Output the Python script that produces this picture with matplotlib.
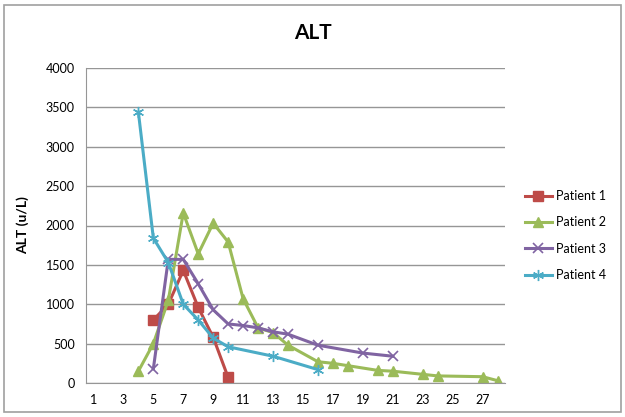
import matplotlib.pyplot as plt
from matplotlib.patches import Rectangle

plt.rcParams['font.family'] = ['Lato', 'DejaVu Sans']

# day numbers and ALT readings (u/L) per patient
days_p1 = [5, 6, 7, 8, 9, 10]
alt_p1 = [800, 1000, 1430, 960, 580, 70]

days_p2 = [4, 5, 6, 7, 8, 9, 10, 11, 12, 13, 14, 16, 17, 18, 20, 21, 23, 24, 27, 28]
alt_p2 = [150, 500, 1050, 2160, 1640, 2030, 1790, 1070, 700, 640, 480, 270, 250, 220,
          160, 150, 110, 90, 80, 30]

days_p3 = [5, 6, 7, 8, 9, 10, 11, 12, 13, 14, 16, 19, 21]
alt_p3 = [180, 1570, 1570, 1260, 930, 750, 730, 700, 650, 620, 480, 380, 340]

days_p4 = [4, 5, 6, 7, 8, 9, 10, 13, 16]
alt_p4 = [3440, 1840, 1530, 1000, 800, 570, 460, 340, 170]

xtick_labels = list(range(1, 29, 2))
ytick_vals = list(range(0, 4001, 500))

fig = plt.figure(figsize=(6.25, 4.17), dpi=100)
fig.patches.append(Rectangle((0.006, 0.012), 0.987, 0.976, transform=fig.transFigure,
                             fill=False, edgecolor='#a0a0a0', lw=1.2))
ax = fig.add_axes([86/625, 1-383/417, 419/625, 315/417])

ax.plot(days_p1, alt_p1, color='#BE4B48', lw=2.2, marker='s', ms=7, label='Patient 1')
ax.plot(days_p2, alt_p2, color='#9BBB59', lw=2.2, marker='^', ms=7.5, label='Patient 2')
ax.plot(days_p3, alt_p3, color='#8064A2', lw=2.2, marker='x', ms=7, mew=1.2, label='Patient 3')
ax.plot(days_p4, alt_p4, color='#4BACC6', lw=2.2, marker=(6, 2, 0), ms=8, mew=1.0, label='Patient 4')

ax.set_xlim(0.5, 28.5)
ax.set_ylim(0, 4000)
ax.set_xticks(xtick_labels)
ax.set_xticklabels([str(v) for v in xtick_labels], fontsize=9)
ax.set_yticks(ytick_vals)
ax.set_yticklabels([str(v) for v in ytick_vals], fontsize=9)
ax.tick_params(axis='both', length=0, pad=8)
ax.yaxis.grid(True, color='#969696', lw=1)
ax.set_axisbelow(True)
for s in ['top', 'right']:
    ax.spines[s].set_visible(False)
for s in ['left', 'bottom']:
    ax.spines[s].set_color('#969696')

ax.set_ylabel('ALT (u/L)', fontsize=10, fontweight='bold', labelpad=12)
fig.text(313/625, 1-33/417, 'ALT', ha='center', va='center', fontsize=15, fontweight='bold')

ax.legend(loc='center left', bbox_to_anchor=(1.02, 0.468), frameon=False, fontsize=9,
          handlelength=2.2, labelspacing=1.15, handletextpad=0.3)

fig.savefig('out.png', dpi=100)
